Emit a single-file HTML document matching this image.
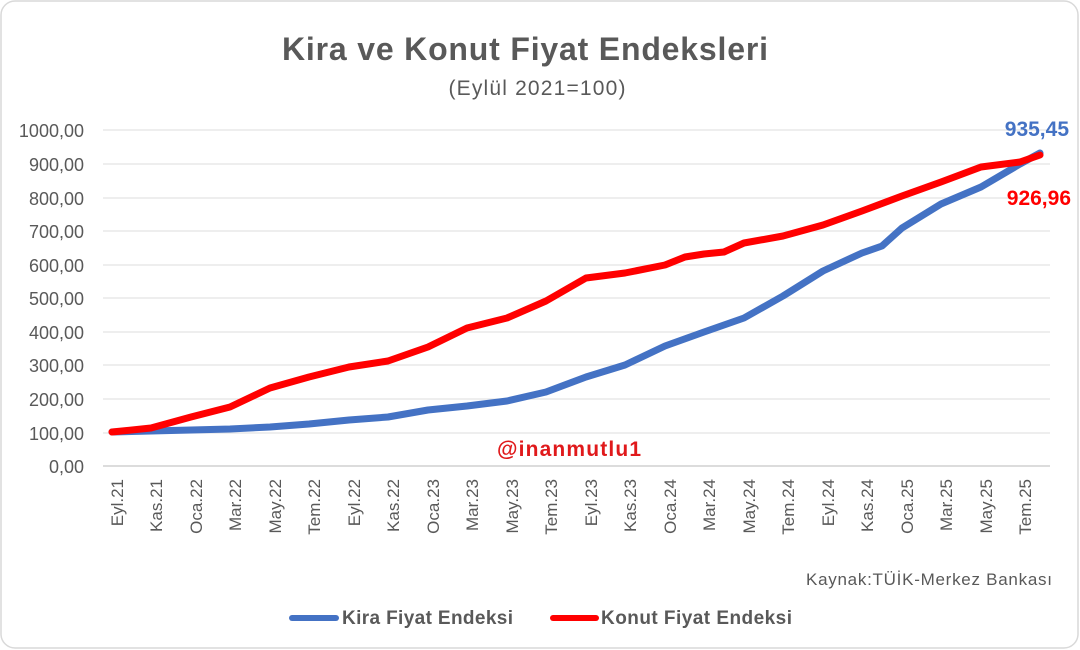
<!DOCTYPE html>
<html><head><meta charset="utf-8"><style>
body{margin:0;background:#fff;}
svg{display:block;font-family:"Liberation Sans",sans-serif;}
</style></head><body>
<svg width="1080" height="650" viewBox="0 0 1080 650" xmlns="http://www.w3.org/2000/svg">
<rect x="1" y="1" width="1077" height="647" rx="14" fill="#fff" stroke="#d9d9d9" stroke-width="1.5"/>
<text x="525" y="60" text-anchor="middle" font-size="32" font-weight="bold" fill="#595959" textLength="486">Kira ve Konut Fiyat Endeksleri</text>
<text x="537" y="95" text-anchor="middle" font-size="21" fill="#595959" textLength="177">(Eylül 2021=100)</text>
<g stroke="#e3e3e3" stroke-width="1.3">
<line x1="103" x2="1050" y1="130" y2="130"/><line x1="103" x2="1050" y1="164" y2="164"/>
<line x1="103" x2="1050" y1="198" y2="198"/><line x1="103" x2="1050" y1="231" y2="231"/>
<line x1="103" x2="1050" y1="265" y2="265"/><line x1="103" x2="1050" y1="298" y2="298"/>
<line x1="103" x2="1050" y1="332" y2="332"/><line x1="103" x2="1050" y1="365" y2="365"/>
<line x1="103" x2="1050" y1="399" y2="399"/><line x1="103" x2="1050" y1="433" y2="433"/>
</g>
<line x1="103" x2="1050" y1="466" y2="466" stroke="#d0d0d0" stroke-width="1.5"/>
<g font-size="18" fill="#595959" text-anchor="end">
<text x="84" y="137">1000,00</text><text x="84" y="171">900,00</text><text x="84" y="205">800,00</text>
<text x="84" y="238">700,00</text><text x="84" y="272">600,00</text><text x="84" y="305">500,00</text>
<text x="84" y="339">400,00</text><text x="84" y="372">300,00</text><text x="84" y="406">200,00</text>
<text x="84" y="440">100,00</text><text x="84" y="473">0,00</text>
</g>
<g font-size="17" fill="#595959" text-anchor="end">
<text transform="translate(123,479) rotate(-90)">Eyl.21</text>
<text transform="translate(162,479) rotate(-90)">Kas.21</text>
<text transform="translate(202,479) rotate(-90)">Oca.22</text>
<text transform="translate(241,479) rotate(-90)">Mar.22</text>
<text transform="translate(281,479) rotate(-90)">May.22</text>
<text transform="translate(320,479) rotate(-90)">Tem.22</text>
<text transform="translate(360,479) rotate(-90)">Eyl.22</text>
<text transform="translate(399,479) rotate(-90)">Kas.22</text>
<text transform="translate(439,479) rotate(-90)">Oca.23</text>
<text transform="translate(478,479) rotate(-90)">Mar.23</text>
<text transform="translate(518,479) rotate(-90)">May.23</text>
<text transform="translate(557,479) rotate(-90)">Tem.23</text>
<text transform="translate(597,479) rotate(-90)">Eyl.23</text>
<text transform="translate(636,479) rotate(-90)">Kas.23</text>
<text transform="translate(676,479) rotate(-90)">Oca.24</text>
<text transform="translate(715,479) rotate(-90)">Mar.24</text>
<text transform="translate(755,479) rotate(-90)">May.24</text>
<text transform="translate(794,479) rotate(-90)">Tem.24</text>
<text transform="translate(834,479) rotate(-90)">Eyl.24</text>
<text transform="translate(873,479) rotate(-90)">Kas.24</text>
<text transform="translate(913,479) rotate(-90)">Oca.25</text>
<text transform="translate(952,479) rotate(-90)">Mar.25</text>
<text transform="translate(992,479) rotate(-90)">May.25</text>
<text transform="translate(1031,479) rotate(-90)">Tem.25</text>
</g>
<g fill="none" stroke-width="7" stroke-linejoin="round" stroke-linecap="round">
<polyline stroke="#4472c4" points="112,432 151,431 191,430 230,429 270,427 309,424 349,420 388,417 428,410 467,406 507,401 546,392 586,377 625,365 665,346 704,332 744,318 783,296 823,271 862,253 882,246 902,228 941,204 981,187 1020,164 1040,153"/>
<polyline stroke="#ff0000" points="112,432 151,428 191,417 230,407 270,388 309,377 349,367 388,361 428,347 467,328 507,318 546,301 586,278 625,273 665,265 685,257 704,254 724,252 744,243 783,236 823,225 862,211 902,196 941,182 981,167 1020,162 1040,155"/>
</g>
<text x="1069" y="136" text-anchor="end" font-size="21" font-weight="bold" fill="#4472c4">935,45</text>
<text x="1071" y="205" text-anchor="end" font-size="21" font-weight="bold" fill="#ff0000">926,96</text>
<text x="569" y="456" text-anchor="middle" font-size="21" font-weight="bold" fill="#e0191b" textLength="144">@inanmutlu1</text>
<text x="1052" y="585" text-anchor="end" font-size="17" fill="#595959" textLength="246">Kaynak:TÜİK-Merkez Bankası</text>
<line x1="292" x2="336" y1="618" y2="618" stroke="#4472c4" stroke-width="6" stroke-linecap="round"/>
<text x="342" y="624" font-size="19" font-weight="bold" fill="#595959" textLength="171">Kira Fiyat Endeksi</text>
<line x1="553" x2="596" y1="618" y2="618" stroke="#ff0000" stroke-width="6" stroke-linecap="round"/>
<text x="601" y="624" font-size="19" font-weight="bold" fill="#595959" textLength="191">Konut Fiyat Endeksi</text>
</svg>
</body></html>
